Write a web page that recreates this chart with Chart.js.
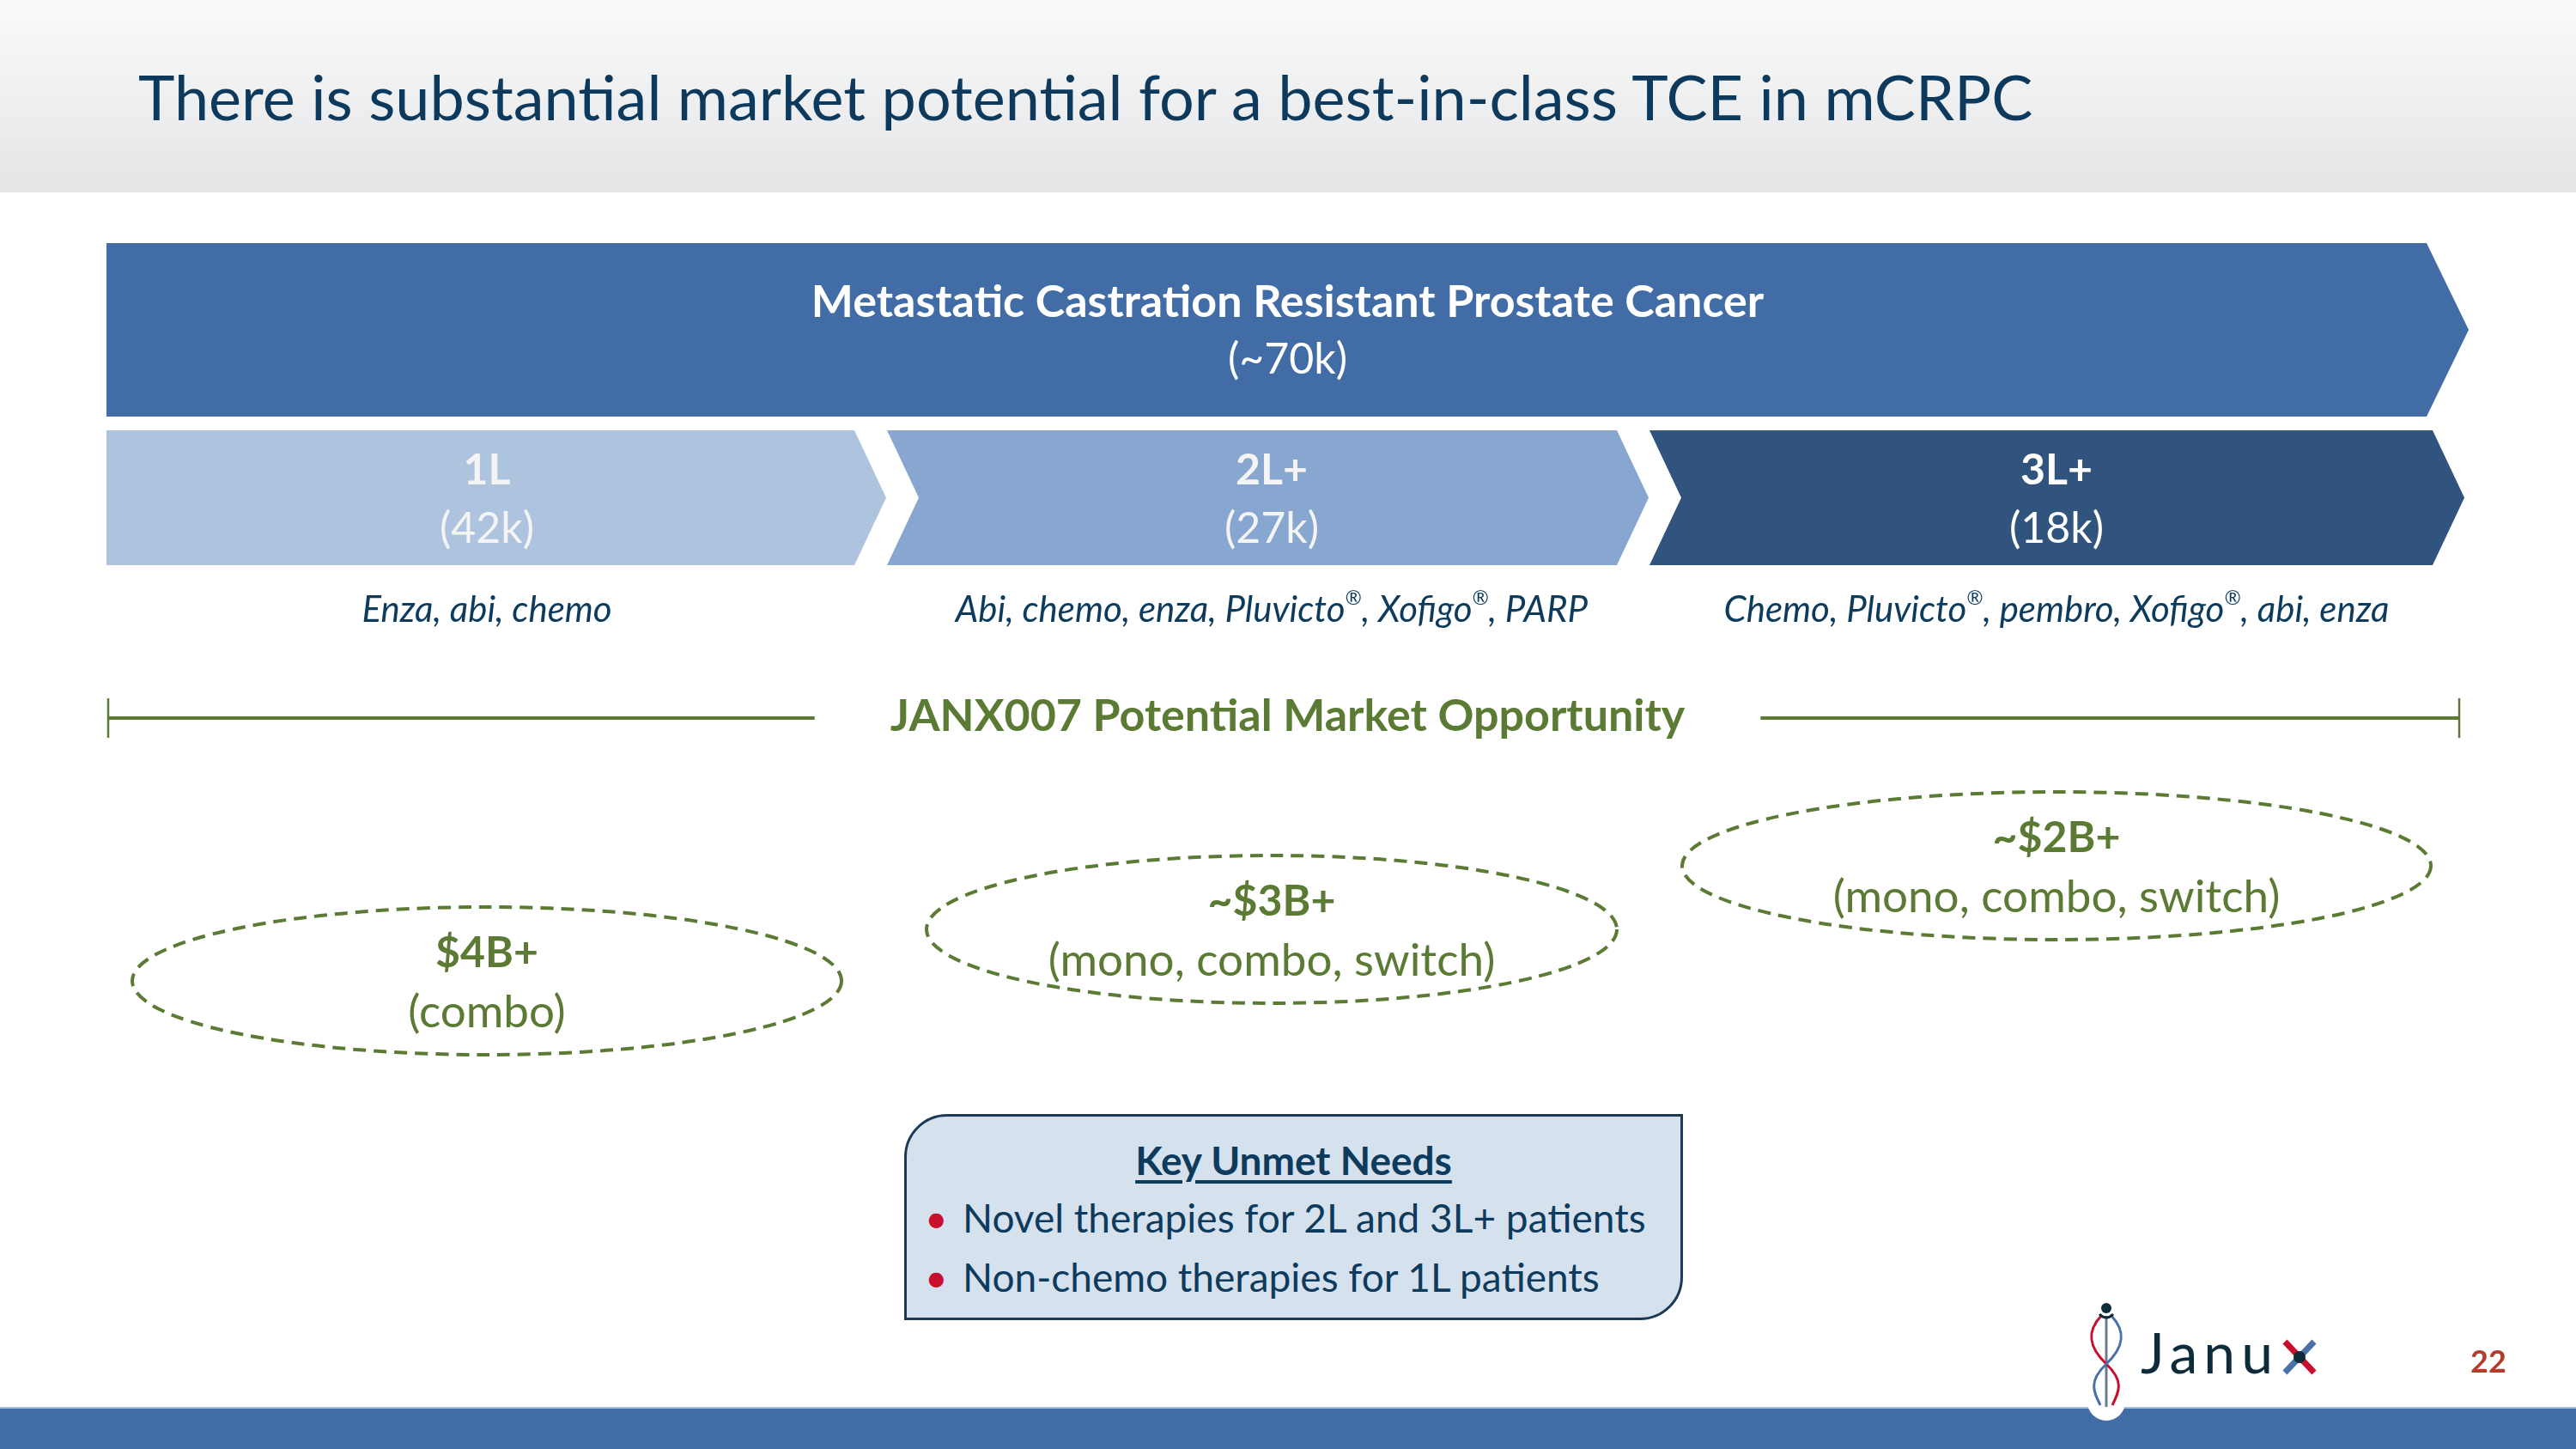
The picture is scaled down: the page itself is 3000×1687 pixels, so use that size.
<!DOCTYPE html>
<html>
<head>
<meta charset="utf-8">
<script src="https://cdn.jsdelivr.net/npm/chart.js"></script>
<style>
  body { margin: 0; width: 3000px; height: 1687px; position: relative; overflow: hidden; background: #fff; font-family: Lato, sans-serif; }
  .header { position: absolute; left: 0; top: 0; width: 3000px; height: 224px; background: linear-gradient(#fafafa, #e4e5e7); }
  .title { position: absolute; left: 161px; top: 76px; font-size: 72px; line-height: 72px; color: #0d3a5c; white-space: nowrap; }
  #chart { position: absolute; left: 0; top: 0; z-index: 1; }
  .needs { position: absolute; left: 1053px; top: 1297px; width: 907px; height: 240px; box-sizing: border-box;
           background: #d6e1ee; border: 3px solid #1c3a56; border-radius: 50px 0 50px 0; z-index: 2; color: #0d3b5d; }
  .needs div { position: absolute; white-space: nowrap; line-height: 1; }
  .needs .head { left: 0; width: 100%; text-align: center; top: 28px; font-size: 46px; font-weight: bold; text-decoration: underline; text-underline-offset: 6px; }
  .needs .item { left: 65px; font-size: 46px; }
  .needs .item::before { content: '•'; color: #c8102e; position: absolute; left: -44px; }
  .footer { position: absolute; left: 0; top: 1638px; width: 3000px; height: 49px; background: #416ca5; border-top: 2px solid #a9bcd8; box-sizing: border-box; }
  .logo { position: absolute; left: 2410px; top: 1510px; z-index: 3; }
  .brand { position: absolute; left: 2493px; top: 1541px; font-size: 66px; line-height: 66px; color: #0e2b3a; letter-spacing: 7px; z-index: 3; }
  .page { position: absolute; left: 2877px; top: 1566px; font-size: 36px; line-height: 36px; font-weight: bold; color: #b43c2b; z-index: 3; }
</style>
<title>mCRPC market potential</title>
</head>
<body>
  <div class="header"></div>
  <div class="title">There is substantial market potential for a best-in-class TCE in mCRPC</div>
  <canvas id="chart" width="3000" height="1687"></canvas>

  <div class="needs">
    <div class="head">Key Unmet Needs</div>
    <div class="item" style="top:95px">Novel therapies for 2L and 3L+ patients</div>
    <div class="item" style="top:164px">Non-chemo therapies for 1L patients</div>
  </div>

  <div class="footer"></div>
  <svg class="logo" width="90" height="150" viewBox="0 0 90 150">
    <circle cx="43" cy="122" r="22" fill="#fff"/>
    <line x1="43" y1="22" x2="43" y2="128" stroke="#6b7b8a" stroke-width="3"/>
    <path d="M37 22 C20 40, 22 58, 43 78 S 58 110, 50 126" fill="none" stroke="#c8102e" stroke-width="3"/>
    <path d="M49 22 C66 40, 64 58, 43 78 S 28 110, 36 126" fill="none" stroke="#4a70a8" stroke-width="3"/>
    <path d="M35 20 Q43 28 51 20" fill="none" stroke="#0e2b3a" stroke-width="3"/>
    <circle cx="43" cy="13" r="6" fill="#0e2b3a"/>
  </svg>
  <div class="brand">Janu</div>
  <svg class="logo" style="left:2657px; top:1558px" width="42" height="44" viewBox="0 0 42 44">
    <line x1="4" y1="4" x2="38" y2="40" stroke="#c8102e" stroke-width="7"/>
    <line x1="38" y1="4" x2="4" y2="40" stroke="#4a70a8" stroke-width="7"/>
    <circle cx="21" cy="22" r="7" fill="#0e2b3a"/>
  </svg>
  <div class="page">22</div>

<script>
  // slide data
  const stages = ['1L', '2L+', '3L+'];
  const patientsK = [42, 27, 18];
  const totalK = 70;
  const totalLabel = 'Metastatic Castration Resistant Prostate Cancer';
  const treatments = [
    'Enza, abi, chemo',
    'Abi, chemo, enza, Pluvicto®, Xofigo®, PARP',
    'Chemo, Pluvicto®, pembro, Xofigo®, abi, enza'
  ];
  const opportunityLabel = 'JANX007 Potential Market Opportunity';
  const marketSize = ['$4B+', '~$3B+', '~$2B+'];
  const marketUse = ['(combo)', '(mono, combo, switch)', '(mono, combo, switch)'];

  const stageColors = ['#adc3de', '#87a7d0', '#30547e'];
  const stageText = ['#f4f4f4', '#f4f4f4', '#ffffff'];
  const green = '#5b7a34';

  function chevron(ctx, left, right, top, bottom, depth, notch, color) {
    const mid = (top + bottom) / 2;
    ctx.beginPath();
    ctx.moveTo(left, top);
    ctx.lineTo(right, top);
    ctx.lineTo(right + depth, mid);
    ctx.lineTo(right, bottom);
    ctx.lineTo(left, bottom);
    if (notch) ctx.lineTo(left + depth, mid);
    ctx.closePath();
    ctx.fillStyle = color;
    ctx.fill();
  }

  function label(ctx, text, x, y, font, color) {
    ctx.font = font;
    ctx.fillStyle = color;
    ctx.textAlign = 'center';
    ctx.textBaseline = 'middle';
    ctx.fillText(text, x, y);
  }

  // italic line with the ® drawn small and raised
  function richLabel(ctx, text, x, y, size, color) {
    const base = 'italic ' + size + 'px Lato';
    const sup = 'italic ' + Math.round(size * 0.55) + 'px Lato';
    const parts = text.split('®');
    let w = 0;
    parts.forEach((p, k) => {
      ctx.font = base; w += ctx.measureText(p).width;
      if (k < parts.length - 1) { ctx.font = sup; w += ctx.measureText('®').width; }
    });
    let cur = x - w / 2;
    ctx.fillStyle = color;
    ctx.textAlign = 'left';
    ctx.textBaseline = 'middle';
    parts.forEach((p, k) => {
      ctx.font = base; ctx.fillText(p, cur, y); cur += ctx.measureText(p).width;
      if (k < parts.length - 1) {
        ctx.font = sup; ctx.fillText('®', cur, y - size * 0.32); cur += ctx.measureText('®').width;
      }
    });
  }

  const funnelPlugin = {
    id: 'funnel',
    afterDraw(chart, args, opts) {
      const { ctx, chartArea: area, scales: { x, y } } = chart;
      const colW = (area.right - area.left) / stages.length;
      const cx = i => x.getPixelForValue(i);
      const py = v => y.getPixelForValue(v);
      ctx.save();

      // whole population
      chevron(ctx, area.left + 14, area.right - 26, py(0), py(202), 49, false, '#416ca5');
      const midX = (area.left + 14 + area.right + 23) / 2;
      label(ctx, totalLabel, midX, py(69), 'bold 52px Lato', '#ffffff');
      label(ctx, '(~' + totalK + 'k)', midX, py(136), '50px Lato', '#ffffff');

      // lines of therapy
      stages.forEach((s, i) => {
        const bl = area.left + i * colW;
        const left = i === 0 ? area.left + 14 : bl + 19 - opts.shift[i - 1];
        chevron(ctx, left, bl + colW - 19 - opts.shift[i], py(218), py(375), 37, i > 0, stageColors[i]);
        label(ctx, s, cx(i), py(265), 'bold 50px Lato', stageText[i]);
        label(ctx, '(' + patientsK[i] + 'k)', cx(i), py(333), '50px Lato', stageText[i]);
        richLabel(ctx, treatments[i], cx(i), py(427), 42, '#0d3b5d');
      });

      // opportunity bracket
      const ly = py(553);
      ctx.font = 'bold 52px Lato';
      const tw = ctx.measureText(opportunityLabel).width;
      const tx = midX;
      label(ctx, opportunityLabel, tx, ly - 2, 'bold 52px Lato', green);
      ctx.strokeStyle = green;
      ctx.lineWidth = 4;
      ctx.beginPath();
      ctx.moveTo(area.left + 16, ly); ctx.lineTo(tx - tw / 2 - 88, ly);
      ctx.moveTo(tx + tw / 2 + 88, ly); ctx.lineTo(area.right + 12, ly);
      ctx.stroke();
      ctx.lineWidth = 2.5;
      ctx.beginPath();
      ctx.moveTo(area.left + 16, ly - 23); ctx.lineTo(area.left + 16, ly + 23);
      ctx.moveTo(area.right + 12, ly - 23); ctx.lineTo(area.right + 12, ly + 23);
      ctx.stroke();

      // market size ellipses
      marketSize.forEach((m, i) => {
        const ey = py(opts.ellipseY[i]);
        ctx.setLineDash([15, 9]);
        ctx.lineWidth = 4;
        ctx.strokeStyle = green;
        ctx.beginPath();
        ctx.ellipse(cx(i), ey, opts.ellipseRx[i], opts.ellipseRy, 0, 0, Math.PI * 2);
        ctx.stroke();
        ctx.setLineDash([]);
        label(ctx, m, cx(i), ey - 32, 'bold 50px Lato', green);
        label(ctx, marketUse[i], cx(i), ey + 37, '53px Lato', green);
      });
      ctx.restore();
    }
  };

  new Chart(document.getElementById('chart'), {
    type: 'bar',
    data: { labels: stages, datasets: [] },
    options: {
      responsive: false,
      animation: false,
      devicePixelRatio: 1,
      layout: { padding: { left: 110, right: 148, top: 283, bottom: 457 } },
      plugins: {
        legend: { display: false },
        tooltip: { enabled: false },
        funnel: { ellipseY: [859, 799, 725], ellipseRx: [413, 402, 436], ellipseRy: 86, shift: [10, 36, 0] }
      },
      scales: {
        x: { type: 'category', display: false, offset: true },
        y: { display: false, reverse: true, min: 0, max: 947 }
      }
    },
    plugins: [funnelPlugin]
  });
</script>
</body>
</html>
